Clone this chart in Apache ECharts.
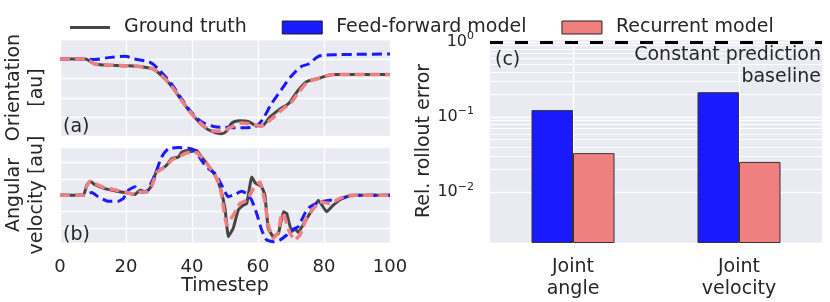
<!DOCTYPE html>
<html>
<head>
<meta charset="utf-8">
<script src="https://cdn.jsdelivr.net/npm/echarts/dist/echarts.min.js"></script>
<style>html,body{margin:0;padding:0;background:#fff}#c{width:830px;height:302px}</style>
</head>
<body>
<div id="c"></div>
<script>
// ---------- Panel (a): orientation ----------
const tA_gt = [0, 7.6, 10.6, 13.6, 20.2, 24.7, 28.3, 30.8, 33.3, 35.9, 38.4, 40.9, 43.9, 47, 49, 50.5, 52, 54.5, 57, 59, 61.1, 63.6, 66.7, 69.2, 71.7, 74.7, 78.8, 82.8, 100];
const vA_gt = [3.0, 3.0, 2.74, 2.69, 2.65, 2.6, 2.48, 2.14, 1.71, 1.1, 0.5, -0.02, -0.54, -0.8, -0.85, -0.71, -0.31, -0.19, -0.22, -0.41, -0.45, 0.0, 0.43, 0.69, 1.28, 1.83, 2.02, 2.2, 2.2];
const tA_rec = [0, 7.6, 10.6, 13.6, 20.2, 24.7, 28.3, 30.8, 33.3, 35.9, 38.4, 40.9, 43.9, 46, 49, 52, 55, 58, 61, 64, 67, 70, 72, 75, 79, 83, 100];
const vA_rec = [3.0, 3.0, 2.74, 2.69, 2.65, 2.6, 2.48, 2.14, 1.71, 1.1, 0.5, -0.02, -0.5, -0.7, -0.72, -0.5, -0.3, -0.35, -0.45, -0.1, 0.35, 0.75, 1.2, 1.8, 2.02, 2.2, 2.2];
const tA_ff = [0, 7.6, 10.6, 14.6, 19.7, 22.7, 27.3, 29.8, 33.8, 36.9, 39.9, 42.9, 47, 50, 55, 59, 61.1, 64.1, 67.2, 70.2, 73.2, 75.3, 78.8, 83.8, 100];
const vA_ff = [3.0, 3.0, 2.97, 3.07, 3.14, 3.0, 2.83, 2.48, 1.71, 0.93, 0.24, -0.24, -0.49, -0.52, -0.55, -0.5, -0.19, 0.69, 1.45, 2.14, 2.62, 2.74, 3.17, 3.22, 3.26];

// ---------- Panel (b): angular velocity ----------
const tB_gt = [0, 7.1, 8.1, 9.1, 10.6, 13.6, 17.2, 19.7, 22.7, 24.2, 26.3, 27.8, 29.3, 30.8, 32.3, 33.8, 35.9, 36.9, 38.4, 39.9, 41.4, 42.9, 44.9, 47, 48.5, 50, 51, 52.5, 54, 55.6, 56.6, 58.1, 59.1, 61.1, 62.1, 63.1, 64.6, 66.2, 67.7, 68.7, 70.2, 71.2, 72.2, 74.2, 76.3, 78.3, 80.8, 82.8, 85.9, 88.9, 100];
const vB_gt = [0, 0, 0.61, 0.85, 0.65, 0.4, 0.24, 0.16, 0.04, 0.3, 0.2, 0.61, 1.52, 1.62, 1.83, 2.23, 2.34, 2.64, 2.74, 2.68, 2.74, 2.34, 1.83, 1.22, 0.5, -0.82, -2.54, -2.03, -0.92, -0.61, -0.51, 1.12, 0.77, 0.51, 0.0, -2.03, -2.54, -2.34, -1.02, -1.12, -2.24, -2.07, -2.28, -1.63, -0.92, -0.31, -1.02, -0.61, -0.16, 0, 0];
const tB_rec = [0, 7.1, 8.1, 9.1, 10.6, 13.6, 17.2, 19.7, 22.7, 24.2, 26.3, 27.8, 29.3, 30.8, 32.3, 33.8, 36, 38.5, 40, 41.5, 43, 45, 47, 48.5, 50.5, 52.5, 54.5, 56.6, 58.6, 60.6, 62.1, 63.1, 64.6, 66.2, 67.2, 68.2, 69.7, 71.2, 72.7, 74.7, 76.8, 78.8, 81.8, 84.8, 87.9, 100];
const vB_rec = [0, 0, 0.55, 0.85, 0.7, 0.45, 0.3, 0.2, 0.05, 0.2, 0.2, 0.55, 1.4, 1.6, 1.8, 2.15, 2.35, 2.6, 2.6, 2.6, 2.3, 1.8, 1.2, 0.6, -1.83, -1.22, -0.51, -0.31, 0.4, 0.81, -0.41, -1.83, -2.64, -2.24, -1.12, -1.42, -2.34, -2.74, -2.44, -1.42, -0.82, -0.41, -0.51, -0.2, 0, 0];
const tB_ff = [0, 7, 9.6, 11.6, 14.6, 17.7, 19.2, 20.7, 22.7, 24.2, 26.3, 27.8, 29.3, 30.8, 32.8, 35.9, 38.9, 40.9, 42.9, 44.4, 47, 49, 51, 53.5, 55, 56.6, 58.1, 59.6, 61.1, 62.6, 64.6, 66.7, 68.7, 70.2, 72.2, 74.2, 75.8, 78.8, 81.8, 84.8, 87.9, 90.9, 100];
const vB_ff = [0, 0, 0.16, -0.1, -0.37, -0.37, -0.2, 0.3, 0.51, 0.2, 0.24, 0.81, 1.52, 2.34, 2.84, 2.92, 2.88, 2.74, 2.13, 1.73, 1.32, 0.61, -0.1, 0.1, 0.24, 0.1, -0.31, -1.12, -2.13, -2.74, -2.85, -2.74, -2.44, -2.13, -1.93, -1.12, -0.71, -0.41, -0.31, -0.24, -0.04, 0, 0];

// ---------- Panel (c): relative rollout error ----------
const categories = ['Joint angle', 'Joint velocity'];
const errFF = [0.124, 0.215];
const errRec = [0.0331, 0.0253];
const baselineErr = 1.0;

const FONT = 'DejaVu Sans';
const TXT = '#262626';
const BG = '#EAEAF2';
const C_GT = '#454545';
const C_FF = '#1a1aff';
const C_REC = '#F08080';

function pairs(t, v) { return t.map((x, i) => [x, v[i]]); }

// log minor gridline positions (2..9 x decade)
const minorVals = [];
[-3, -2, -1].forEach(e => { for (let k = 2; k <= 9; k++) { const v = k * Math.pow(10, e); if (v > 0.0021 && v < 1.1) minorVals.push(v); } });

const hidden = { show: false };
function valX(grid, showLabels) {
  return {
    type: 'value', gridIndex: grid, min: 0, max: 100, interval: 20,
    axisLine: hidden, axisTick: hidden,
    axisLabel: { show: showLabels, fontSize: 18, fontFamily: FONT, color: TXT, margin: 15 },
    splitLine: { show: true, lineStyle: { color: '#fff', width: 1.3 } }
  };
}
function valY(grid, min, max, name) {
  return {
    type: 'value', gridIndex: grid, min: min, max: max, splitNumber: 5,
    axisLine: hidden, axisTick: hidden, axisLabel: hidden,
    splitLine: { show: true, lineStyle: { color: '#fff', width: 1.3 } },
    name: name, nameLocation: 'middle', nameGap: 11,
    nameTextStyle: { fontSize: 19, fontFamily: FONT, color: TXT, lineHeight: 23 }
  };
}
function lineS(name, xi, data, color, width, dashed, z, smooth) {
  return {
    type: 'line', name: name, xAxisIndex: xi, yAxisIndex: xi, data: data,
    showSymbol: false, symbol: 'none', smooth: smooth, z: z, silent: true,
    itemStyle: { color: color },
    lineStyle: { color: color, width: width, type: dashed ? [10, 5] : 'solid', cap: 'butt' }
  };
}

const chart = echarts.init(document.getElementById('c'), null, { renderer: 'canvas' });
const option = {
  animation: false,
  textStyle: { fontFamily: FONT },
  legend: {
    left: 65, top: 13, itemWidth: 40, itemHeight: 13, itemGap: 35,
    textStyle: { fontSize: 19, fontFamily: FONT, color: TXT, padding: [0, 0, 0, 9] },
    selectedMode: false,
    data: [
      { name: 'Ground truth', icon: 'path://M0,0L40,0L40,3.2L0,3.2Z', itemStyle: { color: C_GT, borderWidth: 0 } },
      { name: 'Feed-forward model', icon: 'rect', itemStyle: { color: C_FF, borderColor: '#222', borderWidth: 1 } },
      { name: 'Recurrent model', icon: 'rect', itemStyle: { color: C_REC, borderColor: '#222', borderWidth: 1 } }
    ]
  },
  grid: [
    { left: 60, top: 39, width: 330, height: 97, show: true, backgroundColor: BG, borderWidth: 0 },
    { left: 60, top: 147, width: 330, height: 96, show: true, backgroundColor: BG, borderWidth: 0 },
    { left: 490, top: 39, width: 332, height: 204, show: true, backgroundColor: BG, borderWidth: 0 }
  ],
  xAxis: [
    valX(0, false),
    Object.assign(valX(1, true), {
      name: 'Timestep', nameLocation: 'middle', nameGap: 34,
      nameTextStyle: { fontSize: 19, fontFamily: FONT, color: TXT }
    }),
    {
      type: 'category', gridIndex: 2, data: categories,
      axisLine: hidden, axisTick: hidden, splitLine: hidden,
      axisLabel: {
        fontSize: 19, fontFamily: FONT, color: TXT, lineHeight: 22, margin: 13,
        formatter: v => v.replace(' ', '\n')
      }
    }
  ],
  yAxis: [
    valY(0, -0.97, 4.03, 'Orientation\n[au]'),
    valY(1, -2.93, 2.95, 'Angular\nvelocity [au]'),
    {
      type: 'log', logBase: 10, gridIndex: 2, min: 0.0021, max: 1.1, startValue: 0.0021,
      axisLine: hidden, axisTick: hidden,
      splitLine: { show: true, lineStyle: { color: '#fff', width: 1.3 } },
      axisLabel: {
        showMinLabel: false, showMaxLabel: false, margin: 16, color: TXT,
        formatter: function (v) {
          const e = Math.round(Math.log10(v));
          return '{b|10}{s|' + (e < 0 ? '\u2212' + (-e) : e) + '}';
        },
        rich: {
          b: { fontSize: 16, fontFamily: FONT, color: TXT, lineHeight: 22, verticalAlign: 'middle' },
          s: { fontSize: 11, fontFamily: FONT, color: TXT, lineHeight: 22, verticalAlign: 'top' }
        }
      },
      name: 'Rel. rollout error', nameLocation: 'middle', nameGap: 49,
      nameTextStyle: { fontSize: 19, fontFamily: FONT, color: TXT }
    }
  ],
  series: [
    lineS('Ground truth', 0, pairs(tA_gt, vA_gt), C_GT, 3, false, 2, 0.3),
    lineS('Feed-forward model', 0, pairs(tA_ff, vA_ff), C_FF, 3, true, 3, 0.3),
    lineS('Recurrent model', 0, pairs(tA_rec, vA_rec), C_REC, 3.5, true, 4, 0.3),
    lineS('Ground truth', 1, pairs(tB_gt, vB_gt), C_GT, 3, false, 2, 0.1),
    lineS('Feed-forward model', 1, pairs(tB_ff, vB_ff), C_FF, 3, true, 3, 0.15),
    lineS('Recurrent model', 1, pairs(tB_rec, vB_rec), C_REC, 3.5, true, 4, 0.1),
    {
      type: 'bar', name: 'Feed-forward model', xAxisIndex: 2, yAxisIndex: 2, data: errFF,
      barWidth: '25%', barGap: '0%', z: 3,
      itemStyle: { color: C_FF, borderColor: '#333', borderWidth: 1 }
    },
    {
      type: 'bar', name: 'Recurrent model', xAxisIndex: 2, yAxisIndex: 2, data: errRec,
      barWidth: '25%', barGap: '0%', z: 3,
      itemStyle: { color: C_REC, borderColor: '#333', borderWidth: 1 }
    },
    {
      type: 'line', name: '_grid', xAxisIndex: 2, yAxisIndex: 2, data: [], silent: true,
      markLine: {
        z: 1, silent: true, symbol: ['none', 'none'], label: { show: false }, animation: false,
        lineStyle: { color: '#fff', width: 1.1, type: 'solid' },
        data: minorVals.map(v => ({ yAxis: v })).concat(categories.map(c => ({ xAxis: c, lineStyle: { width: 1.3 } })))
      }
    },
    {
      type: 'line', name: '_baseline', xAxisIndex: 2, yAxisIndex: 2, data: [], silent: true,
      markLine: {
        z: 6, silent: true, symbol: ['none', 'none'], label: { show: false }, animation: false,
        lineStyle: { color: '#000', width: 3, type: [13, 12] },
        data: [{ yAxis: baselineErr }]
      }
    }
  ],
  graphic: [
    { type: 'text', x: 63, y: 127, z: 100, style: { text: '(a)', fontSize: 19, fontFamily: FONT, fill: TXT, verticalAlign: 'middle' } },
    { type: 'text', x: 63, y: 235, z: 100, style: { text: '(b)', fontSize: 19, fontFamily: FONT, fill: TXT, verticalAlign: 'middle' } },
    { type: 'text', x: 495, y: 60, z: 100, style: { text: '(c)', fontSize: 19, fontFamily: FONT, fill: TXT, verticalAlign: 'middle' } },
    { type: 'text', x: 821, y: 66, z: 100, style: { text: 'Constant prediction\nbaseline', fontSize: 19, lineHeight: 22, fontFamily: FONT, fill: TXT, align: 'right', verticalAlign: 'middle' } }
  ]
};
chart.setOption(option);
</script>
</body>
</html>
